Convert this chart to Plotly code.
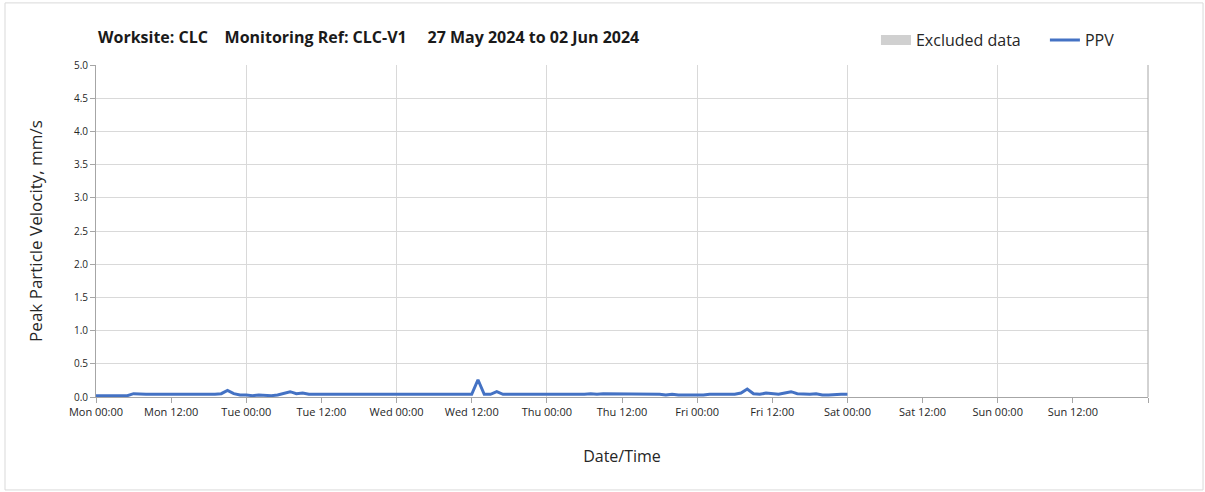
import pandas as pd
import plotly.graph_objects as go

# ---- data (hourly PPV readings, mm/s) ----
start_time = "2024-05-27 00:00"
mon = [0.02, 0.02, 0.02, 0.02, 0.02, 0.02, 0.05, 0.04, 0.04, 0.04, 0.04, 0.04,
       0.04, 0.04, 0.04, 0.03, 0.04, 0.04, 0.04, 0.04, 0.05, 0.10, 0.05, 0.03]
tue = [0.03, 0.02, 0.03, 0.02, 0.02, 0.03, 0.05, 0.08, 0.05, 0.06, 0.04, 0.04,
       0.04, 0.04, 0.04, 0.04, 0.04, 0.04, 0.04, 0.03, 0.04, 0.04, 0.03, 0.04]
wed = [0.03, 0.04, 0.04, 0.03, 0.04, 0.03, 0.04, 0.04, 0.04, 0.04, 0.04, 0.04,
       0.04, 0.26, 0.04, 0.04, 0.08, 0.04, 0.04, 0.04, 0.04, 0.04, 0.04, 0.03]
thu = [0.03, 0.03, 0.03, 0.03, 0.03, 0.04, 0.04, 0.05, 0.04, 0.05, 0.05, 0.05,
       0.05, 0.04, 0.04, 0.05, 0.04, 0.04, 0.04, 0.03, 0.04, 0.03, 0.03, 0.03]
fri = [0.02, 0.03, 0.04, 0.04, 0.03, 0.03, 0.04, 0.06, 0.12, 0.05, 0.04, 0.06,
       0.05, 0.04, 0.06, 0.08, 0.05, 0.04, 0.04, 0.05, 0.03, 0.03, 0.04, 0.04]
sat = [0.04]
ppv = mon + tue + wed + thu + fri + sat
times = pd.date_range(start_time, periods=len(ppv), freq="h")

x_range = ["2024-05-27 00:00", "2024-06-03 00:00"]
x_tick_count = 14  # labelled ticks every 12 h, Mon 00:00 .. Sun 12:00
x_ticks = pd.date_range(x_range[0], periods=x_tick_count, freq="12h")
y_ticks = [0.0, 0.5, 1.0, 1.5, 2.0, 2.5, 3.0, 3.5, 4.0, 4.5, 5.0]
title_text = ("Worksite: CLC &nbsp;&nbsp; Monitoring Ref: CLC-V1 &nbsp;&nbsp;&nbsp; "
              "27 May 2024 to 02 Jun 2024")

FONT = "Open Sans"
TXT = "#262626"
AXIS_COL = "#a6a6a6"
GRID_COL = "#d9d9d9"

fig = go.Figure()
# legend-only entry (no excluded periods in this window)
fig.add_trace(go.Scatter(
    x=[times[0]], y=[0], name="Excluded data", mode="lines",
    line=dict(width=10, color="#d0d0d0"), hoverinfo="skip", legend="legend",
))
fig.add_trace(go.Scatter(
    x=times, y=ppv, name="PPV", mode="lines",
    line=dict(color="#4472c4", width=3), legend="legend2",
))
# invisible trace that carries the daily gridline axis
fig.add_trace(go.Scatter(x=x_range, y=[None, None], xaxis="x2", showlegend=False,
                         hoverinfo="skip"))

legend_style = dict(orientation="h", y=1.075, xanchor="left", yanchor="middle",
                    font=dict(size=16, color=TXT), itemwidth=30,
                    bgcolor="rgba(0,0,0,0)")

fig.update_layout(
    width=1205, height=492,
    margin=dict(l=96, r=57, t=65, b=95),
    paper_bgcolor="white", plot_bgcolor="white",
    font=dict(family=FONT, color=TXT),
    showlegend=True,
    legend=dict(x=0.7414, **legend_style),
    legend2=dict(x=0.902, **legend_style),
    xaxis=dict(
        type="date", range=x_range, tickvals=x_ticks,
        tickformat="%a %H:%M", showgrid=False, zeroline=False, automargin=False,
        showline=True, linecolor=AXIS_COL, linewidth=1,
        ticks="outside", ticklen=5, tickcolor=AXIS_COL,
        tickfont=dict(size=11, color=TXT),
        title=dict(text="Date/Time", font=dict(size=16, color=TXT), standoff=32),
    ),
    xaxis2=dict(
        type="date", range=x_range, overlaying="x", side="bottom", automargin=False,
        dtick=24 * 3600 * 1000, tick0=x_range[0], showgrid=True, gridcolor=GRID_COL,
        gridwidth=1, showticklabels=False, ticks="outside", ticklen=5,
        tickcolor=AXIS_COL, showline=False, zeroline=False,
    ),
    yaxis=dict(
        range=[0, 5], tickvals=y_ticks, tickformat=".1f", automargin=False,
        showgrid=True, gridcolor=GRID_COL, gridwidth=1, zeroline=False,
        showline=True, linecolor=AXIS_COL, linewidth=1,
        ticks="outside", ticklen=5, tickcolor=AXIS_COL,
        tickfont=dict(size=10, color=TXT),
        title=dict(text="Peak Particle Velocity, mm/s", font=dict(size=17, color=TXT),
                   standoff=26),
    ),
    annotations=[dict(
        text="<b>" + title_text + "</b>", xref="paper", yref="paper",
        x=0, y=1.084, xanchor="left", yanchor="middle", showarrow=False,
        font=dict(size=16, color="#1a1a1a", family=FONT),
    )],
    shapes=[
        dict(type="line", xref="paper", yref="paper", x0=1, x1=1, y0=0, y1=1,
             line=dict(color=AXIS_COL, width=1)),
        dict(type="rect", xref="paper", yref="paper", x0=-0.0865, x1=1.0523,
             y0=-0.28, y1=1.187, line=dict(color=GRID_COL, width=1), layer="below"),
    ],
)

fig.write_html("out.html", config={"displayModeBar": False},
               post_script="document.body.style.margin='0px';")
